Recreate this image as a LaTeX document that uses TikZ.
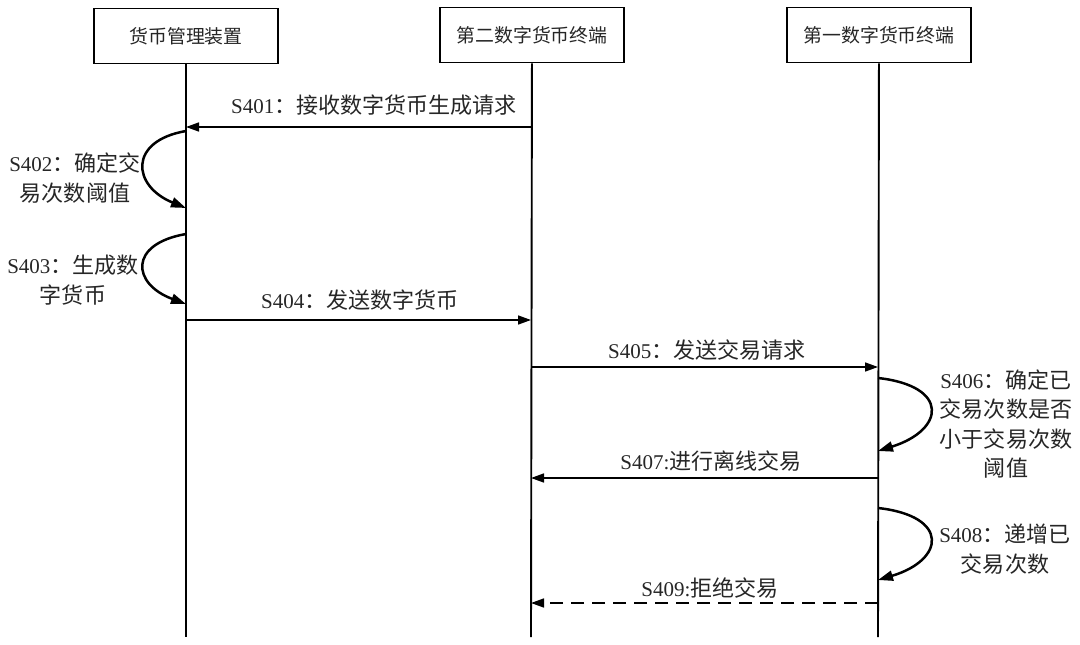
\documentclass[tikz,border=0pt]{standalone}
\usepackage{fontspec}
\setmainfont{Liberation Serif}
\newfontfamily\cjk[Scale=1.05]{Noto Sans CJK SC}
\usetikzlibrary{arrows.meta}
\begin{document}
\begin{tikzpicture}[x=1pt,y=-1pt,
    every node/.style={font=\fontsize{21}{29.5}\selectfont,text=black!85},
    box/.style={draw=black,line width=1.8pt,minimum width=184pt,minimum height=55pt,
      font=\fontsize{18}{20}\selectfont},
    life/.style={line width=1.9pt},
    msg/.style={line width=1.6pt,-{Triangle[length=13pt,width=9pt]}},
    self/.style={line width=2.5pt,-{Triangle[length=15pt,width=10pt]}}]
      \useasboundingbox (0,0) rectangle (1080,645);
      \draw
        (186,36) node[box] (mgr){\cjk 货币管理装置}
        (532,35) node[box] (sec){\cjk 第二数字货币终端}
        (879,35) node[box] (fst){\cjk 第一数字货币终端};
      \coordinate (mgrend) at (186,637);
      \coordinate (secend) at (531,637);
      \coordinate (fstend) at (878,637);
      % lifeline points
      \coordinate (m401) at (186,127);  \coordinate (s401) at (531,127);
      \coordinate (m402a) at (186,131); \coordinate (m402b) at (186,208);
      \coordinate (m403a) at (186,234); \coordinate (m403b) at (186,304);
      \coordinate (m404) at (186,320);  \coordinate (s404) at (531,320);
      \coordinate (s405) at (531,367);  \coordinate (f405) at (878,367);
      \coordinate (f406a) at (878,378); \coordinate (f406b) at (878,451);
      \coordinate (s407) at (531,478);  \coordinate (f407) at (878,478);
      \coordinate (f408a) at (878,508); \coordinate (f408b) at (878,580);
      \coordinate (s409) at (531,603);  \coordinate (f409) at (878,603);
      % labels
      \draw
        (374,105) node (t401){S401{\cjk ：接收数字货币生成请求}}
        (75,178) node[align=center] (t402){S402{\cjk ：确定交}\\{\cjk 易次数阈值}}
        (73,280) node[align=center] (t403){S403{\cjk ：生成数}\\{\cjk 字货币}}
        (360,300) node (t404){S404{\cjk ：发送数字货币}}
        (707,350) node (t405){S405{\cjk ：发送交易请求}}
        (1006,424) node[align=center] (t406){S406{\cjk ：确定已}\\{\cjk 交易次数是否}\\{\cjk 小于交易次数}\\{\cjk 阈值}}
        (711,461) node (t407){S407:{\cjk 进行离线交易}}
        (1005,549) node[align=center] (t408){S408{\cjk ：递增已}\\{\cjk 交易次数}}
        (710,588) node (t409){S409:{\cjk 拒绝交易}};
      \begin{scope}[life]
        \draw (mgr) to (mgrend);
        \draw (sec) to (secend);
        \draw (fst) to (fstend);
      \end{scope}
      \begin{scope}[msg]
        \draw (s401) to (m401);
        \draw (m404) to (s404);
        \draw (s405) to (f405);
        \draw (f407) to (s407);
        \draw[dash pattern=on 13pt off 8pt] (f409) to (s409);
      \end{scope}
      \begin{scope}[self]
        \draw (m402a) .. controls (128,141) and (132,186) .. (m402b);
        \draw (m403a) .. controls (128,244) and (132,284) .. (m403b);
        \draw (f406a) .. controls (950,386) and (945,430) .. (f406b);
        \draw (f408a) .. controls (950,516) and (945,560) .. (f408b);
      \end{scope}
    \end{tikzpicture}
\end{document}
